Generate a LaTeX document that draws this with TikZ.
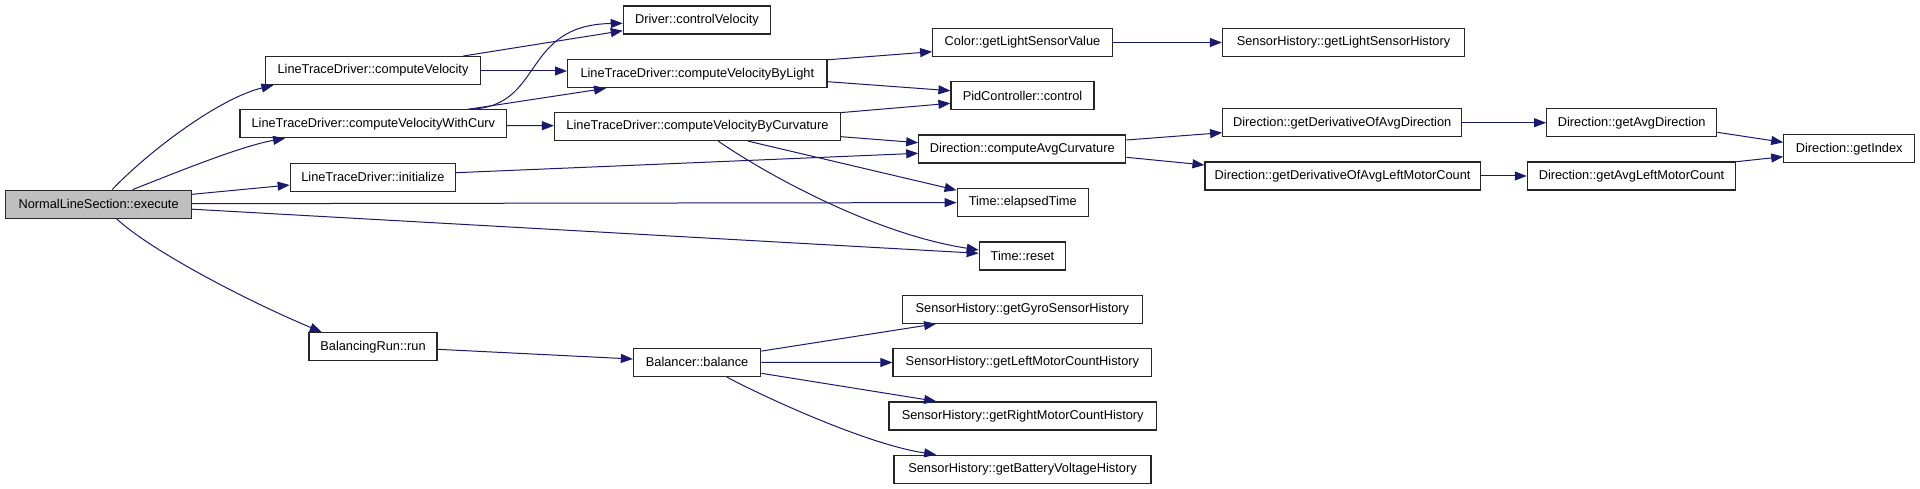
\documentclass[tikz,border=0pt]{standalone}
\usepackage{fontspec}
\setmainfont{Liberation Sans}
\usetikzlibrary{arrows.meta,calc}
\definecolor{edgeblue}{HTML}{191970}
\definecolor{execgray}{HTML}{BFBFBF}
\begin{document}
\begin{tikzpicture}[x=1pt,y=-1pt,
  fn/.style={draw=black!85, line width=1.2pt, fill=white, minimum height=28pt, inner sep=0pt, font=\fontsize{12.8}{15}\selectfont},
  root/.style={fn, fill=execgray},
  call/.style={draw=edgeblue, line width=1pt, -{Triangle[length=12pt,width=9pt]}}]
\useasboundingbox (0,0) rectangle (1920,489);
\fill[white] (0,0) rectangle (1920,489);

% rank 0
\node[root, minimum width=185.8pt] (exec) at (98.6,204.2) {NormalLineSection::execute};
% rank 1
\node[fn, minimum width=214.5pt] (cv)   at (373,70.6)   {LineTraceDriver::computeVelocity};
\node[fn, minimum width=266.6pt] (cvw)  at (373.3,123.8) {LineTraceDriver::computeVelocityWithCurv};
\node[fn, minimum width=165.3pt] (init) at (372.9,177.2) {LineTraceDriver::initialize};
\node[fn, minimum width=128pt]   (brun) at (373,346.7)  {BalancingRun::run};
% rank 2
\node[fn, minimum width=147.3pt] (ctrl) at (697,20)     {Driver::controlVelocity};
\node[fn, minimum width=259.3pt] (byl)  at (697.3,73.7) {LineTraceDriver::computeVelocityByLight};
\node[fn, minimum width=286pt]   (byc)  at (697.5,126.6) {LineTraceDriver::computeVelocityByCurvature};
\node[fn, minimum width=127.3pt] (bal)  at (697.1,362.3) {Balancer::balance};
% rank 3
\node[fn, minimum width=179.6pt] (color) at (1022.5,42.5)  {Color::getLightSensorValue};
\node[fn, minimum width=143pt]   (pid)   at (1022.5,95.7)  {PidController::control};
\node[fn, minimum width=207pt]   (avgc)  at (1022.3,149)   {Direction::computeAvgCurvature};
\node[fn, minimum width=131pt]   (elap)  at (1022.7,202.6) {Time::elapsedTime};
\node[fn, minimum width=86.5pt]  (reset) at (1022.5,256)   {Time::reset};
\node[fn, minimum width=240pt]   (gyro)  at (1022.4,309.2) {SensorHistory::getGyroSensorHistory};
\node[fn, minimum width=258.8pt] (lmh)   at (1022.4,362.5) {SensorHistory::getLeftMotorCountHistory};
\node[fn, minimum width=267.3pt] (rmh)   at (1022.7,415.9) {SensorHistory::getRightMotorCountHistory};
\node[fn, minimum width=257.1pt] (bvh)   at (1022.5,469.2) {SensorHistory::getBatteryVoltageHistory};
% rank 4
\node[fn, minimum width=242pt]   (lsh) at (1343.5,42.5)  {SensorHistory::getLightSensorHistory};
\node[fn, minimum width=239pt]   (dad) at (1342.2,122.7) {Direction::getDerivativeOfAvgDirection};
\node[fn, minimum width=275.1pt] (dlm) at (1342.6,176)   {Direction::getDerivativeOfAvgLeftMotorCount};
% rank 5
\node[fn, minimum width=170pt]   (gad) at (1631.7,122.7) {Direction::getAvgDirection};
\node[fn, minimum width=208.3pt] (glm) at (1631.5,176)   {Direction::getAvgLeftMotorCount};
% rank 6
\node[fn, minimum width=130.8pt] (gidx) at (1849.2,148.8) {Direction::getIndex};

% edges from execute
\draw[call] ($(exec.north)+(13.6,0)$) .. controls (150,150) and (220,98) .. ($(cv.south west)+(8.3,0)$);
\draw[call] ($(exec.north)+(34,0)$) .. controls (165,177) and (240,146) .. ($(cvw.south west)+(45.7,0)$);
\draw[call] ($(exec.east)+(0,-9.9)$) -- ($(init.west)+(0,7.8)$);
\draw[call] ($(exec.east)+(0,-0.5)$) -- (elap.west);
\draw[call] ($(exec.east)+(0,5)$) -- ($(reset.west)+(0,-2.7)$);
\draw[call] ($(exec.south)+(18,0)$) .. controls (150,250) and (245,300) .. ($(brun.north west)+(13.4,0)$);

% rank 1 -> rank 2
\draw[call] ($(cv.north east)+(-17.5,0)$) -- ($(ctrl.west)+(0,10.7)$);
\draw[call] ($(cvw.north east)+(-38.6,0)$) .. controls (545,108) and (520,25) .. ($(ctrl.west)+(0,3.3)$);
\draw[call] ($(cvw.north east)+(-38.6,0)$) -- ($(byl.south west)+(39,0)$);
\draw[call] ($(cv.east)+(0,0.4)$) -- ($(byl.west)+(0,-2.7)$);
\draw[call] ($(cvw.east)+(0,1.9)$) -- ($(byc.west)+(0,-0.9)$);
\draw[call] ($(init.east)+(0,-4.5)$) -- ($(avgc.west)+(0,4.3)$);
\draw[call] (brun.east |- 0,349.3) -- ($(bal.west)+(0,-3.3)$);

% rank 2 -> rank 3
\draw[call] ($(byl.north east)+(0,0.7)$) -- ($(color.west)+(0,9.2)$);
\draw[call] ($(byl.east)+(0,8)$) -- ($(pid.west)+(0,-5)$);
\draw[call] ($(byc.north east)+(0,0.6)$) -- ($(pid.west)+(0,7.6)$);
\draw[call] ($(byc.east)+(0,10.1)$) -- ($(avgc.west)+(0,-6.3)$);
\draw[call] ($(byc.south)+(50.8,0)$) -- ($(elap.north west)+(0,2.2)$);
\draw[call] ($(byc.south)+(20.8,0)$) .. controls (775,180) and (880,235) .. ($(reset.west)+(0,-6)$);
\draw[call] ($(bal.north east)+(0,3.4)$) -- ($(gyro.south west)+(34.3,0)$);
\draw[call] (bal.east) -- (lmh.west);
\draw[call] ($(bal.east)+(0,11)$) -- ($(rmh.north west)+(47.7,0)$);
\draw[call] ($(bal.south)+(29.4,0)$) .. controls (770,400) and (870,445) .. ($(bvh.north west)+(42.8,0)$);

% rank 3 -> rank 4
\draw[call] (color.east) -- (lsh.west);
\draw[call] ($(avgc.east)+(0,-9)$) -- ($(dad.west)+(0,10)$);
\draw[call] ($(avgc.east)+(0,8.3)$) -- ($(dlm.west)+(0,-11)$);

% rank 4 -> rank 5 -> rank 6
\draw[call] (dad.east) -- (gad.west);
\draw[call] (dlm.east) -- (glm.west);
\draw[call] ($(gad.east)+(0,9.6)$) -- ($(gidx.west)+(0,-6.5)$);
\draw[call] ($(glm.north east)+(0,0.3)$) -- ($(gidx.west)+(0,7.9)$);
\end{tikzpicture}
\end{document}
